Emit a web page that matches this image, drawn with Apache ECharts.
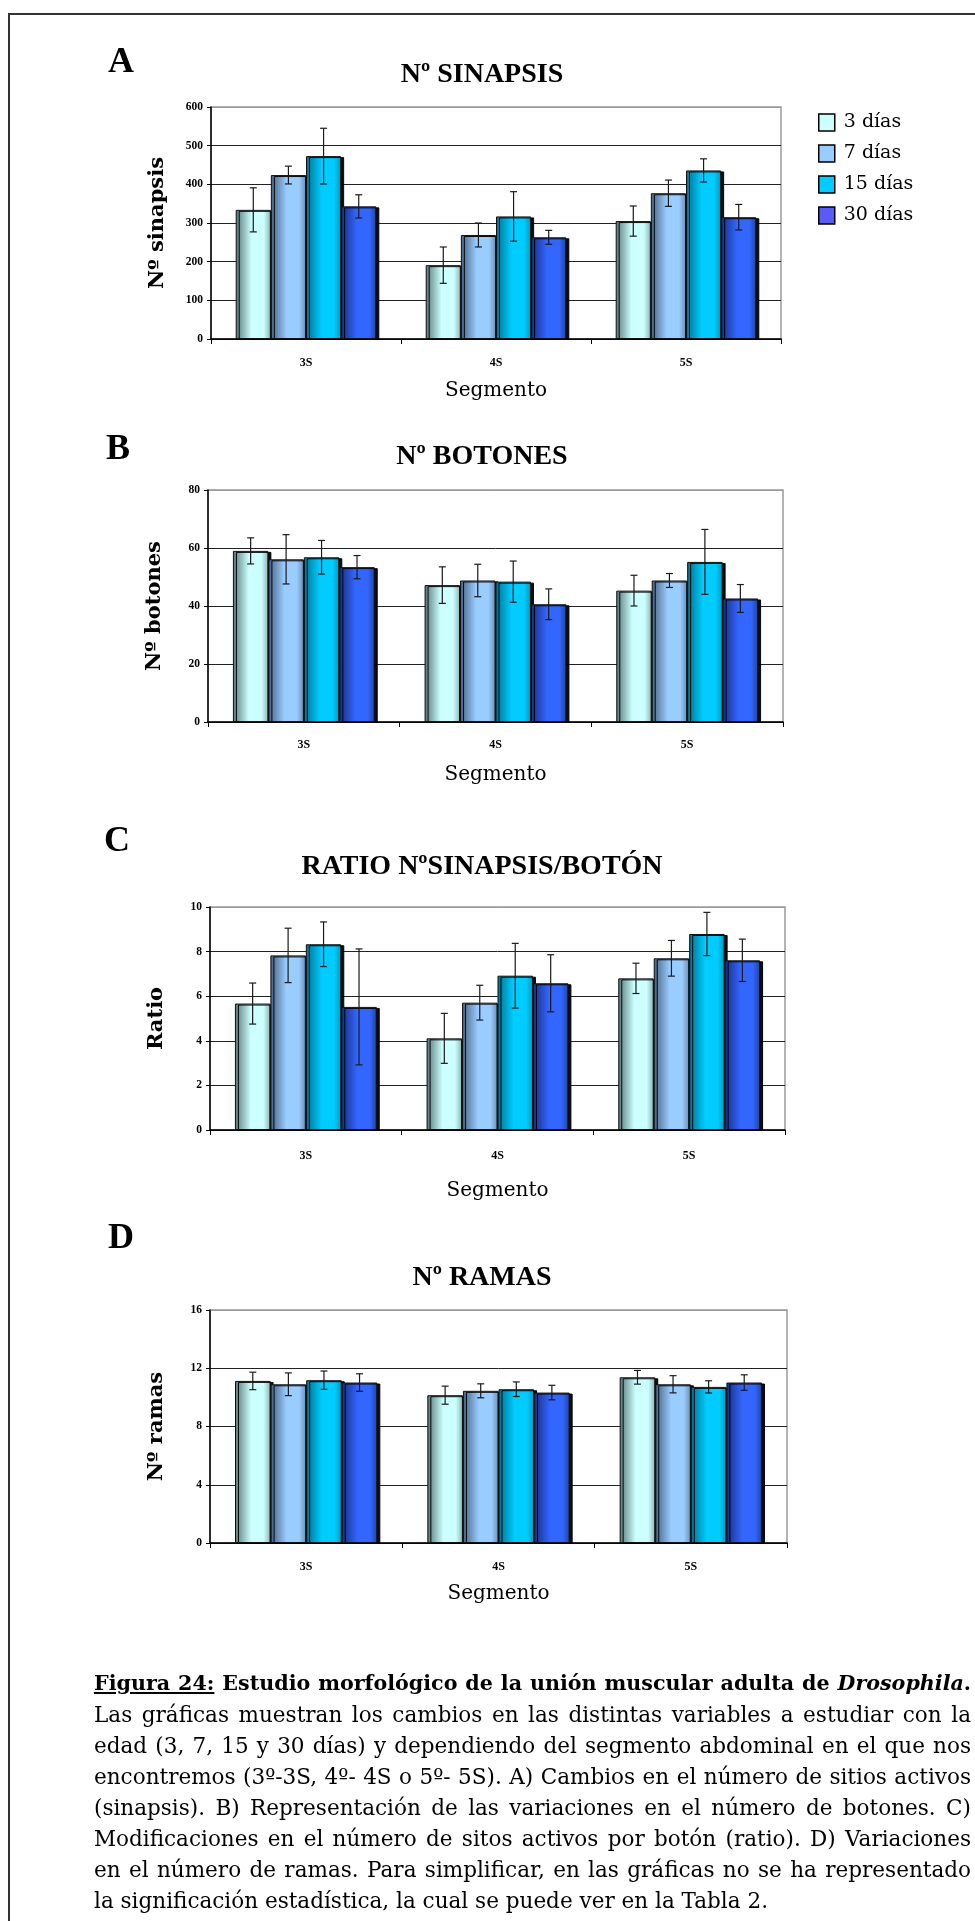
<!DOCTYPE html>
<html>
<head>
<meta charset="utf-8">
<script src="https://cdn.jsdelivr.net/npm/echarts@6/dist/echarts.min.js"></script>
<style>
  html, body { margin: 0; padding: 0; background: #fff; }
  #wrap { position: relative; width: 975px; height: 1921px; overflow: hidden; background: #fff; }
  #chart { position: absolute; left: 0; top: 0; width: 975px; height: 1921px; }
  #frame { position: absolute; left: 8px; top: 13px; width: 1000px; height: 2000px;
           border-top: 2px solid #333; border-left: 2px solid #333; pointer-events: none; }
  #caption { position: absolute; left: 94px; top: 1668px; width: 877px;
             font-family: "DejaVu Serif", serif; font-size: 20px; color: #000; }
  #caption div { height: 31px; line-height: 31px; white-space: nowrap; text-align: justify; text-align-last: justify; }
  #caption div.last { text-align-last: left; }
</style>
</head>
<body>
<div id="wrap">
  <div id="chart"></div>
  <div id="frame"></div>
  <div id="caption">
    <div class="first"><b><u>Figura 24:</u> Estudio morfológico de la unión muscular adulta de <i>Drosophila</i>.</b></div>
    <div>Las gráficas muestran los cambios en las distintas variables a estudiar con la</div>
    <div>edad (3, 7, 15 y 30 días) y dependiendo del segmento abdominal en el que nos</div>
    <div>encontremos (3º-3S, 4º- 4S o 5º- 5S). A) Cambios en el número de sitios activos</div>
    <div>(sinapsis). B) Representación de las variaciones en el número de botones. C)</div>
    <div>Modificaciones en el número de sitos activos por botón (ratio). D) Variaciones</div>
    <div>en el número de ramas. Para simplificar, en las gráficas no se ha representado</div>
    <div class="last">la significación estadística, la cual se puede ver en la Tabla 2.</div>
  </div>
</div>
<script>
// ---------- DATA ----------
const categories = ['3S', '4S', '5S'];
const seriesNames = ['3 días', '7 días', '15 días', '30 días'];

// A) Nº sinapsis
const sinapsis_3d  = [334, 191, 305];  const sinapsis_3d_err  = [57, 47, 39];
const sinapsis_7d  = [424, 269, 377];  const sinapsis_7d_err  = [23, 31, 34];
const sinapsis_15d = [473, 317, 436];  const sinapsis_15d_err = [72, 64, 30];
const sinapsis_30d = [343, 263, 315];  const sinapsis_30d_err = [30, 18, 33];

// B) Nº botones
const botones_3d  = [59.0, 47.2, 45.3]; const botones_3d_err  = [4.5, 6.3, 5.3];
const botones_7d  = [56.1, 48.8, 48.8]; const botones_7d_err  = [8.5, 5.6, 2.4];
const botones_15d = [56.8, 48.4, 55.2]; const botones_15d_err = [5.8, 7.1, 11.2];
const botones_30d = [53.4, 40.6, 42.6]; const botones_30d_err = [4.0, 5.3, 4.8];

// C) Ratio
const ratio_3d  = [5.67, 4.11, 6.80]; const ratio_3d_err  = [0.92, 1.12, 0.68];
const ratio_7d  = [7.83, 5.71, 7.70]; const ratio_7d_err  = [1.22, 0.78, 0.80];
const ratio_15d = [8.33, 6.92, 8.79]; const ratio_15d_err = [1.00, 1.45, 0.97];
const ratio_30d = [5.52, 6.58, 7.61]; const ratio_30d_err = [2.60, 1.28, 0.95];

// D) Nº ramas
const ramas_3d  = [11.13, 10.15, 11.38]; const ramas_3d_err  = [0.60, 0.62, 0.47];
const ramas_7d  = [10.90, 10.45, 10.90]; const ramas_7d_err  = [0.78, 0.48, 0.59];
const ramas_15d = [11.18, 10.56, 10.72]; const ramas_15d_err = [0.63, 0.50, 0.42];
const ramas_30d = [11.02, 10.33, 11.02]; const ramas_30d_err = [0.60, 0.50, 0.53];

const panelLetters = ['A', 'B', 'C', 'D'];
const panelTitles = ['Nº SINAPSIS', 'Nº BOTONES', 'RATIO NºSINAPSIS/BOTÓN', 'Nº RAMAS'];
const yNames = ['Nº sinapsis', 'Nº botones', 'Ratio', 'Nº ramas'];
const xName = 'Segmento';
const yMax = [600, 80, 10, 16];
const yInterval = [100, 20, 2, 4];

const panelValues = [
  [sinapsis_3d, sinapsis_7d, sinapsis_15d, sinapsis_30d],
  [botones_3d, botones_7d, botones_15d, botones_30d],
  [ratio_3d, ratio_7d, ratio_15d, ratio_30d],
  [ramas_3d, ramas_7d, ramas_15d, ramas_30d]
];
const panelErrors = [
  [sinapsis_3d_err, sinapsis_7d_err, sinapsis_15d_err, sinapsis_30d_err],
  [botones_3d_err, botones_7d_err, botones_15d_err, botones_30d_err],
  [ratio_3d_err, ratio_7d_err, ratio_15d_err, ratio_30d_err],
  [ramas_3d_err, ramas_7d_err, ramas_15d_err, ramas_30d_err]
];

// ---------- STYLE / LAYOUT ----------
const grids = [
  { left: 211, top: 107, width: 570, height: 232 },
  { left: 208, top: 490, width: 575, height: 232 },
  { left: 210, top: 907, width: 575, height: 223 },
  { left: 210, top: 1310, width: 577, height: 233 }
];
const letterPos = [[108, 45], [106, 432], [104, 824], [108, 1221]];
const titleCenterY = [75, 457, 867, 1278];
const titleCenterX = 482;
const xNameGap = [42, 43, 51, 41];
const catMargin = [18, 17, 20, 18];

const baseColors = ['#CCFFFF', '#99CCFF', '#00CCFF', '#3366FF'];
const darkColors = ['#557575', '#46617F', '#00708F', '#172E80'];
const edgeColors = ['#8FB3B3', '#6B8FB3', '#0099BB', '#22449F'];
const legendColors = ['#CCFFFF', '#99CCFF', '#00CCFF', '#5A5AF5'];

function barGradient(i) {
  return {
    type: 'linear', x: 0, y: 0, x2: 1, y2: 0,
    colorStops: [
      { offset: 0, color: darkColors[i] },
      { offset: 0.45, color: baseColors[i] },
      { offset: 0.8, color: baseColors[i] },
      { offset: 1, color: edgeColors[i] }
    ]
  };
}

const serifBold = '"Liberation Serif", "Times New Roman", serif';
const wideSerif = '"DejaVu Serif", serif';
const BAR_GAP = 0.26;

function renderErr(params, api) {
  const cat = api.value(0), s = api.value(1), lo = api.value(2), hi = api.value(3);
  const band = api.size([1, 0])[0];
  const total = band * (1 - BAR_GAP);
  const bw = total / 4;
  const cx = api.coord([cat, 0])[0] - total / 2 + bw * (s + 0.5);
  const yLo = api.coord([cat, lo])[1];
  const yHi = api.coord([cat, hi])[1];
  const cap = 3.5;
  const st = { stroke: '#1a1a1a', lineWidth: 1.2 };
  return {
    type: 'group',
    children: [
      { type: 'line', shape: { x1: cx, y1: yLo, x2: cx, y2: yHi }, style: st },
      { type: 'line', shape: { x1: cx - cap, y1: yLo, x2: cx + cap, y2: yLo }, style: st },
      { type: 'line', shape: { x1: cx - cap, y1: yHi, x2: cx + cap, y2: yHi }, style: st }
    ]
  };
}

const gridOpt = [], xAxes = [], yAxes = [], series = [], graphics = [];

for (let p = 0; p < 4; p++) {
  gridOpt.push(Object.assign({ show: true, borderColor: '#9a9a9a', borderWidth: 1.5, backgroundColor: '#fff' }, grids[p]));
  xAxes.push({
    gridIndex: p, type: 'category', data: categories,
    name: xName, nameLocation: 'middle', nameGap: xNameGap[p],
    nameTextStyle: { fontFamily: wideSerif, fontSize: 20, color: '#000' },
    axisLine: { lineStyle: { color: '#000', width: 1.5 } },
    axisTick: { show: true, length: 5, lineStyle: { color: '#000' } },
    axisLabel: { margin: catMargin[p], fontFamily: serifBold, fontWeight: 'bold', fontSize: 12, color: '#000' },
    splitLine: { show: false }
  });
  const nTicks = yMax[p] / yInterval[p] + 1;
  const splitColors = [];
  for (let k = 0; k < nTicks; k++) splitColors.push(k === nTicks - 1 ? '#9a9a9a' : '#222');
  yAxes.push({
    gridIndex: p, type: 'value', min: 0, max: yMax[p], interval: yInterval[p],
    name: yNames[p], nameLocation: 'middle', nameGap: 43, nameRotate: 90,
    nameTextStyle: { fontFamily: wideSerif, fontWeight: 'bold', fontSize: 21, color: '#000' },
    axisLine: { show: true, lineStyle: { color: '#000', width: 1.5 } },
    axisTick: { show: true, length: 4, lineStyle: { color: '#000' } },
    axisLabel: { margin: 8, fontFamily: serifBold, fontWeight: 'bold', fontSize: 11.5, color: '#000' },
    splitLine: { show: true, lineStyle: { color: splitColors, width: 1 } }
  });
  const errData = [];
  for (let s = 0; s < 4; s++) {
    series.push({
      type: 'bar', name: seriesNames[s], xAxisIndex: p, yAxisIndex: p,
      data: panelValues[p][s],
      barGap: '0%', barCategoryGap: (BAR_GAP * 100) + '%',
      itemStyle: {
        color: barGradient(s), borderColor: '#111', borderWidth: 1,
        shadowColor: 'rgba(0,0,0,0.95)', shadowBlur: 0, shadowOffsetX: 3, shadowOffsetY: 1
      },
      emphasis: { disabled: true },
      z: 2
    });
    for (let c = 0; c < categories.length; c++) {
      const v = panelValues[p][s][c], e = panelErrors[p][s][c];
      errData.push([c, s, v - e, v + e]);
    }
  }
  series.push({
    type: 'custom', name: 'err' + p, xAxisIndex: p, yAxisIndex: p,
    renderItem: renderErr, data: errData, encode: { x: 0, y: [2, 3] }, z: 5, silent: true
  });
  graphics.push({
    type: 'text', left: letterPos[p][0], top: letterPos[p][1],
    style: { text: panelLetters[p], fontFamily: serifBold, fontWeight: 'bold', fontSize: 36, fill: '#000' }
  });
  graphics.push({
    type: 'text', x: titleCenterX, y: titleCenterY[p],
    style: { text: panelTitles[p], fontFamily: serifBold, fontWeight: 'bold', fontSize: 28, fill: '#000',
             textAlign: 'center', textVerticalAlign: 'middle' }
  });
}

const chart = echarts.init(document.getElementById('chart'), null, { renderer: 'canvas' });
chart.setOption({
  animation: false,
  backgroundColor: '#fff',
  grid: gridOpt,
  xAxis: xAxes,
  yAxis: yAxes,
  legend: {
    data: seriesNames.map((n, i) => ({ name: n, itemStyle: { color: legendColors[i] } })),
    orient: 'vertical', left: 813, top: 108,
    icon: 'rect', itemWidth: 16, itemHeight: 17, itemGap: 12,
    itemStyle: { borderColor: '#000', borderWidth: 1.5 },
    textStyle: { fontFamily: wideSerif, fontSize: 19, color: '#000', padding: [0, 0, 0, 4] },
    selectedMode: false
  },
  graphic: graphics,
  series: series
});

// ---------- caption: fit justified lines to the column width ----------
(function fitCaption() {
  const cap = document.getElementById('caption');
  const lines = Array.from(cap.querySelectorAll('div'));
  function natural(d) {
    d.style.display = 'inline-block';
    d.style.textAlignLast = 'left';
    const w = d.scrollWidth;
    d.style.display = '';
    d.style.textAlignLast = '';
    return w;
  }
  let bodyMax = 0;
  lines.forEach(d => { if (!d.classList.contains('first') && !d.classList.contains('last')) bodyMax = Math.max(bodyMax, natural(d)); });
  const bodyFs = Math.min(22, 20 * 868 / bodyMax);
  cap.style.fontSize = bodyFs.toFixed(2) + 'px';
  const first = lines[0];
  const w1 = natural(first);
  if (w1 > 870) first.style.fontSize = (bodyFs * 870 / w1).toFixed(2) + 'px';
})();
</script>
</body>
</html>
